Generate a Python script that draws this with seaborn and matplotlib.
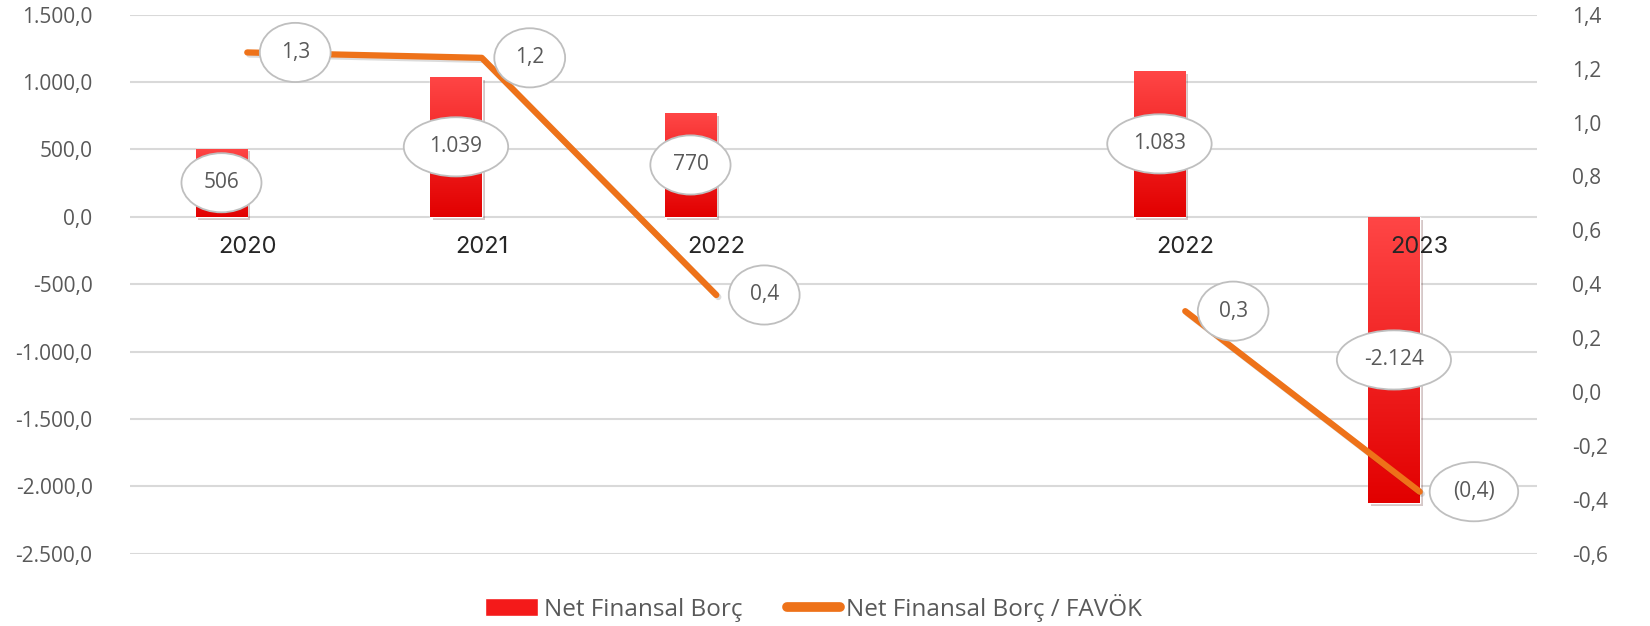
import numpy as np
import pandas as pd
import matplotlib
matplotlib.use("Agg")
import matplotlib.pyplot as plt
import matplotlib.patheffects as pe
from matplotlib.colors import LinearSegmentedColormap
from matplotlib.lines import Line2D
from matplotlib.patches import Patch
from matplotlib.ticker import FuncFormatter, MultipleLocator
import seaborn as sns

# chart data (4th slot is the empty gap between the two 2022 columns)
categories = ["2020", "2021", "2022", "", "2022", "2023"]
net_debt = [506, 1039, 770, np.nan, 1083, -2124]
debt_to_ebitda = [1.26, 1.24, 0.36, np.nan, 0.30, -0.37]
line_segment = [0, 0, 0, np.nan, 1, 1]

bar_name = "Net Finansal Borç"
line_name = "Net Finansal Borç / FAVÖK"

RED_TOP = "#ff4646"
RED_BOTTOM = "#e20000"
ORANGE = "#ee7219"
GREY = "#595959"


def tr_number(v, decimals):
    # turkish style: 1.500,0
    s = f"{v:,.{decimals}f}"
    return s.replace(",", "X").replace(".", ",").replace("X", ".")


def ratio_label(v):
    if v < 0:
        return "(" + tr_number(abs(v), 1) + ")"
    return tr_number(v, 1)


df = pd.DataFrame({
    "pos": np.arange(len(categories)),
    "cat": categories,
    "debt": net_debt,
    "ratio": debt_to_ebitda,
    "seg": line_segment,
})

sns.set_theme(style="white")
plt.rcParams["font.family"] = ["Open Sans", "DejaVu Sans"]

fig = plt.figure(figsize=(16.5, 6.26), dpi=100)
ax = fig.add_axes([0.0788, 0.1155, 0.8527, 0.861])
ax2 = ax.twinx()

# bars sit in the left half of each slot
bar_w = 0.22
bars = ax.bar(df["pos"] - bar_w / 2, df["debt"], width=bar_w, color=RED_BOTTOM, zorder=2,
              path_effects=[pe.SimplePatchShadow(offset=(2, -2), alpha=0.22), pe.Normal()])
grad_cmap = LinearSegmentedColormap.from_list("redgrad", [RED_TOP, RED_BOTTOM])
grad = np.linspace(0, 1, 256).reshape(-1, 1)
for rect in bars:
    if np.isnan(rect.get_height()):
        continue
    x0, y0 = rect.get_x(), rect.get_y()
    x1, y1 = x0 + rect.get_width(), y0 + rect.get_height()
    im = ax.imshow(grad, cmap=grad_cmap, aspect="auto", origin="upper", zorder=3,
                   extent=[x0, x1, min(y0, y1), max(y0, y1)])
    im.set_clip_path(rect)

# ratio line, two separate pieces
line_df = df.dropna(subset=["ratio"])
sns.lineplot(data=line_df, x="pos", y="ratio", units="seg", estimator=None, ax=ax2,
             color=ORANGE, lw=4.5, solid_capstyle="round", legend=False,
             path_effects=[pe.SimpleLineShadow(offset=(1.5, -1.5), alpha=0.15), pe.Normal()])

ax.set_xlim(-0.5, len(categories) - 0.5)
ax2.set_xlim(-0.5, len(categories) - 0.5)
ax.set_ylim(-2500, 1500)
ax2.set_ylim(-0.6, 1.4)
ax.yaxis.set_major_locator(MultipleLocator(500))
ax2.yaxis.set_major_locator(MultipleLocator(0.2))
ax.yaxis.set_major_formatter(FuncFormatter(lambda v, p: tr_number(v + 0.0, 1)))
ax2.yaxis.set_major_formatter(FuncFormatter(lambda v, p: tr_number(round(v, 1) + 0.0, 1)))
ax.set_xticks([])
ax.set_xlabel("")
ax.set_ylabel("")
ax2.set_xlabel("")
ax2.set_ylabel("")

ax.yaxis.grid(True, color="#d9d9d9", lw=1.5)
ax.set_axisbelow(True)
ax2.grid(False)
for a in (ax, ax2):
    for sp in a.spines.values():
        sp.set_visible(False)
ax.tick_params(axis="y", length=0, pad=27, labelsize=15, labelcolor=GREY)
ax2.tick_params(axis="y", length=0, pad=25, labelsize=15, labelcolor=GREY)

# year labels just under the zero line
for _, r in df.iterrows():
    if r["cat"]:
        ax.annotate(r["cat"], (r["pos"], 0), xytext=(0, -22), textcoords="offset points",
                    ha="center", va="center", fontsize=17, color="#262626", zorder=5,
                    family=["Inter", "DejaVu Sans"])

ellipse = dict(boxstyle="ellipse,pad=0.5", fc="white", ec="#bfbfbf", lw=1.3)

# bar value labels in the middle of the bar
for _, r in df.dropna(subset=["debt"]).iterrows():
    ax2.annotate(tr_number(r["debt"], 0), (r["pos"] - bar_w / 2, r["debt"] / 2),
                 xycoords=ax.transData, ha="center", va="center", fontsize=15,
                 color=GREY, bbox=ellipse, zorder=6)

# ratio labels to the right of each point
for _, r in line_df.iterrows():
    ax2.annotate(ratio_label(r["ratio"]), (r["pos"], r["ratio"]), xytext=(24, 0),
                 textcoords="offset points", ha="left", va="center", fontsize=15,
                 color=GREY, bbox=ellipse, zorder=6)

handles = [
    Patch(facecolor="#f41a1a", label=bar_name),
    Line2D([0], [0], color=ORANGE, lw=7, solid_capstyle="round", label=line_name),
]
fig.legend(handles=handles, loc="center", bbox_to_anchor=(0.493, 0.029), ncol=2,
           frameon=False, labelcolor=GREY, handlelength=2.2, handleheight=0.75,
           handletextpad=0.25, columnspacing=1.8,
           prop={"family": ["Open Sans", "DejaVu Sans"], "size": 17.5})

fig.savefig("out.png", dpi=100)
